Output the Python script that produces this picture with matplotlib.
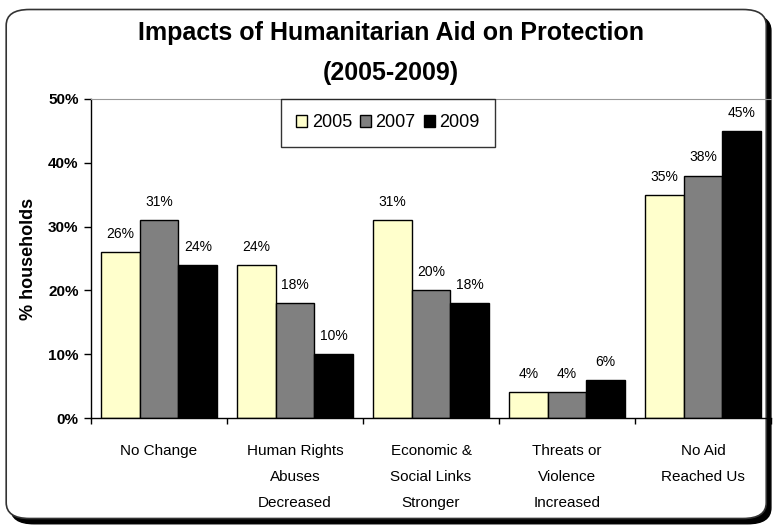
import numpy as np
import matplotlib
matplotlib.use("Agg")
import matplotlib.pyplot as plt
from matplotlib.patches import FancyBboxPatch, Patch

plt.rcParams['font.family'] = ['Liberation Sans Narrow', 'Liberation Sans', 'DejaVu Sans']

# data
categories = ['No Change', 'Human Rights\nAbuses\nDecreased', 'Economic &\nSocial Links\nStronger',
              'Threats or\nViolence\nIncreased', 'No Aid\nReached Us']
years = ['2005', '2007', '2009']
v2005 = [26, 24, 31, 4, 35]
v2007 = [31, 18, 20, 4, 38]
v2009 = [24, 10, 18, 6, 45]
series = [v2005, v2007, v2009]
colors = ['#FFFFCC', '#808080', '#000000']

fig = plt.figure(figsize=(7.74, 5.28), dpi=100)

# rounded frame with shadow
shadow = FancyBboxPatch((0.014, 0.008), 0.982, 0.964, boxstyle="round,pad=0,rounding_size=0.03",
                        transform=fig.transFigure, facecolor='black', edgecolor='black', zorder=-2)
frame = FancyBboxPatch((0.008, 0.018), 0.982, 0.964, boxstyle="round,pad=0,rounding_size=0.03",
                       transform=fig.transFigure, facecolor='white', edgecolor='#333333',
                       linewidth=1.2, zorder=-1)
fig.patches.extend([shadow, frame])

ax = fig.add_axes([0.1176, 0.2083, 0.8786, 0.6042])
ax.patch.set_alpha(0)

x = np.arange(len(categories))
w = 0.285
for i, (vals, c) in enumerate(zip(series, colors)):
    bars = ax.bar(x + (i - 1) * w, vals, w, color=c, edgecolor='black', linewidth=1, label=years[i])
    for b, v in zip(bars, vals):
        ax.annotate(f'{v}%', (b.get_x() + b.get_width() / 2, v), xytext=(0, 8),
                    textcoords='offset points', ha='center', va='bottom', fontsize=10)

ax.set_xlim(-0.5, 4.5)
ax.set_ylim(0, 50)
ax.set_yticks(range(0, 51, 10))
ax.set_yticklabels([f'{t}%' for t in range(0, 51, 10)], fontsize=11, fontweight='bold')
ax.tick_params(axis='y', length=5, width=1, pad=4)
ax.set_xticks(x)
ax.set_xticklabels(categories, fontsize=11, linespacing=2.05)
ax.tick_params(axis='x', which='major', length=0, pad=19)
ax.set_xticks(np.arange(-0.5, 5, 1), minor=True)
ax.tick_params(axis='x', which='minor', length=4, width=1)

ax.spines['top'].set_color('#999999')
ax.spines['right'].set_visible(False)
ax.spines['left'].set_linewidth(1)
ax.spines['bottom'].set_linewidth(1)

ax.set_ylabel('% households', fontsize=13, fontweight='bold', labelpad=8)

handles = [Patch(facecolor=c, edgecolor='black', label=y) for c, y in zip(colors, years)]
leg = fig.legend(handles=handles, loc='upper left', bbox_to_anchor=(281 / 774, 1 - 99 / 528),
                 ncol=3, fontsize=13, frameon=True, fancybox=False, edgecolor='black',
                 handlelength=0.6, handleheight=0.6, handletextpad=0.25, columnspacing=0.45,
                 borderpad=0.85, borderaxespad=0)
leg.get_frame().set_linewidth(1)

fig.text(0.505, 0.937, 'Impacts of Humanitarian Aid on Protection', ha='center', va='center',
         fontsize=18, fontweight='bold')
fig.text(0.505, 0.862, '(2005-2009)', ha='center', va='center', fontsize=18, fontweight='bold')

fig.savefig('out.png', dpi=100)
